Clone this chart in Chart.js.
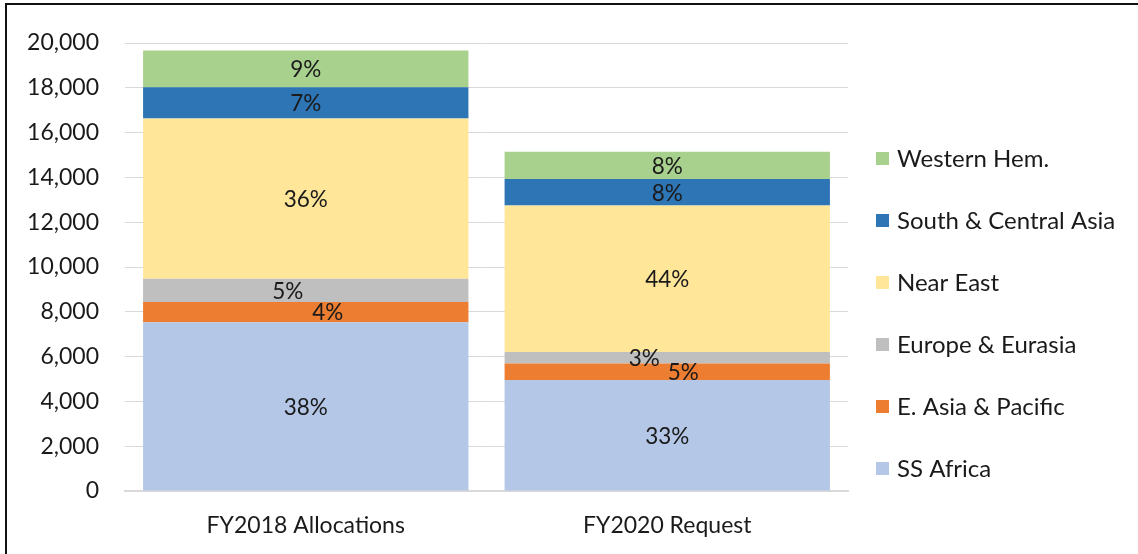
<!DOCTYPE html>
<html>
<head>
<meta charset="utf-8">
<script src="https://cdn.jsdelivr.net/npm/chart.js@4/dist/chart.umd.min.js"></script>
<style>
  html, body { margin: 0; padding: 0; background: #fff; }
  #wrap { position: relative; width: 1138px; height: 554px; overflow: hidden; }
  #frame { position: absolute; left: 5px; top: 3px; width: 1200px; height: 600px;
           border-top: 2px solid #111; border-left: 2px solid #111; pointer-events: none; }
  canvas { position: absolute; left: 0; top: 0; }
</style>
</head>
<body>
<div id="wrap">
  <canvas id="c" width="1138" height="554"></canvas>
  <div id="frame"></div>
</div>
<script>
// ---- data ----
const categories = ['FY2018 Allocations', 'FY2020 Request'];
const seriesNames = ['SS Africa', 'E. Asia & Pacific', 'Europe & Eurasia', 'Near East', 'South & Central Asia', 'Western Hem.'];
const ssAfrica = [7530, 4950];
const eAsiaPacific = [910, 740];
const europeEurasia = [1040, 520];
const nearEast = [7150, 6530];
const southCentralAsia = [1390, 1190];
const westernHem = [1640, 1210];
const ssAfricaPct = ['38%', '33%'];
const eAsiaPacificPct = ['4%', '5%'];
const europeEurasiaPct = ['5%', '3%'];
const nearEastPct = ['36%', '44%'];
const southCentralAsiaPct = ['7%', '8%'];
const westernHemPct = ['9%', '8%'];
const yTickValues = [0, 2000, 4000, 6000, 8000, 10000, 12000, 14000, 16000, 18000, 20000];

// ---- styles ----
const colors = ['#b4c7e7', '#ed7d31', '#bfbfbf', '#ffe699', '#2e75b6', '#a9d18e'];
const FONT = 'Lato, "Open Sans", sans-serif';
const TEXT = '#1a1a1a';
// horizontal nudges of the in-bar labels (per series, per category), as in the reference
const labelNudge = [[0, 0], [22, 16], [-18, -23], [0, 0], [0, 0], [0, 0]];

const seriesValues = [ssAfrica, eAsiaPacific, europeEurasia, nearEast, southCentralAsia, westernHem];
const seriesPct = [ssAfricaPct, eAsiaPacificPct, europeEurasiaPct, nearEastPct, southCentralAsiaPct, westernHemPct];

const datasets = seriesNames.map((name, i) => ({
  label: name,
  data: seriesValues[i],
  pctLabels: seriesPct[i],
  backgroundColor: colors[i],
  borderWidth: 0,
  categoryPercentage: 0.9,
  barPercentage: 1.0
}));

const barLabels = {
  id: 'barLabels',
  afterDatasetsDraw(chart) {
    const ctx = chart.ctx;
    ctx.save();
    ctx.font = '22.5px ' + FONT;
    ctx.fillStyle = TEXT;
    ctx.textAlign = 'center';
    ctx.textBaseline = 'middle';
    chart.data.datasets.forEach((ds, di) => {
      const meta = chart.getDatasetMeta(di);
      meta.data.forEach((el, j) => {
        const p = el.getProps(['x', 'y', 'base'], true);
        const nx = labelNudge[di][j];
        ctx.fillText(ds.pctLabels[j], p.x + nx, (p.y + p.base) / 2 + 1);
      });
    });
    ctx.restore();
  }
};

const sideLegend = {
  id: 'sideLegend',
  afterDraw(chart) {
    const ctx = chart.ctx;
    const area = chart.chartArea;
    const boxX = area.right + 28;
    const firstY = 158;
    const step = 62;
    ctx.save();
    ctx.font = '24px ' + FONT;
    ctx.textBaseline = 'middle';
    ctx.textAlign = 'left';
    const n = chart.data.datasets.length;
    for (let k = 0; k < n; k++) {
      const di = n - 1 - k;
      const ds = chart.data.datasets[di];
      const cy = firstY + k * step;
      ctx.fillStyle = ds.backgroundColor;
      ctx.fillRect(boxX, cy - 6, 13, 13);
      ctx.fillStyle = TEXT;
      ctx.fillText(ds.label, boxX + 21, cy + 1);
    }
    ctx.restore();
  }
};

new Chart(document.getElementById('c'), {
  type: 'bar',
  data: { labels: categories, datasets },
  plugins: [barLabels, sideLegend],
  options: {
    responsive: false,
    animation: false,
    layout: { padding: { left: 0, top: 43, right: 290, bottom: 0 } },
    plugins: { legend: { display: false }, tooltip: { enabled: false } },
    scales: {
      x: {
        stacked: true,
        grid: { display: false, drawTicks: false },
        border: { display: true, color: '#d9d9d9', width: 2 },
        ticks: { color: TEXT, font: { family: FONT, size: 23 }, padding: 21 },
        afterFit(s) { s.height = 63; }
      },
      y: {
        stacked: true,
        min: 0, max: 20000,
        afterBuildTicks(s) { s.ticks = yTickValues.map(v => ({ value: v })); },
        grid: { color: '#d9d9d9', lineWidth: 1, drawTicks: false },
        border: { display: false },
        ticks: {
          color: TEXT, font: { family: FONT, size: 23 }, padding: 26,
          callback: v => v.toLocaleString('en-US')
        },
        afterFit(s) { s.width = 125; }
      }
    }
  }
});
</script>
</body>
</html>
